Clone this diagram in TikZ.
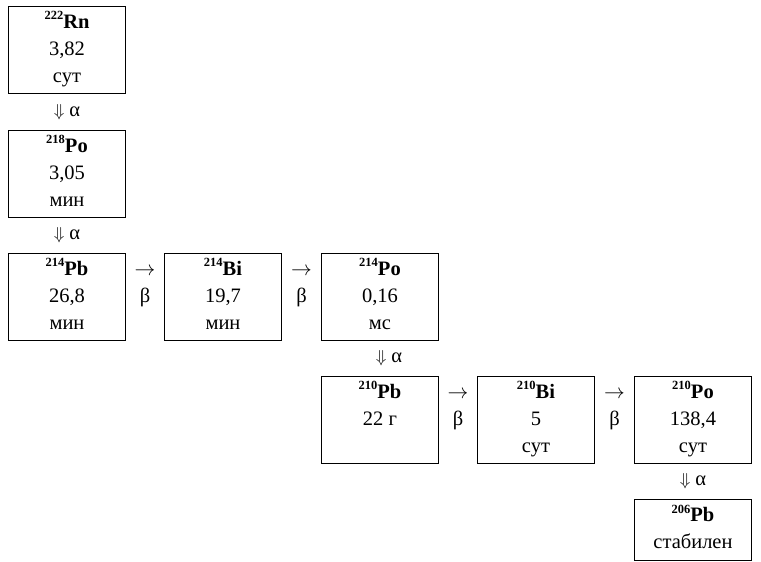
\documentclass[tikz,border=0pt]{standalone}
\usepackage{fontspec}
\setmainfont{Liberation Serif}
\usetikzlibrary{positioning,calc}

% isotope label: bold mass number raised before the symbol
\newcommand{\iso}[2]{\textbf{\raisebox{0.42em}{\fontsize{12.5}{12.5}\selectfont #1}#2}}
\newcommand{\nuc}[4]{\strut\iso{#1}{#2}\\#3\\#4\strut}

\begin{document}
\begin{tikzpicture}[x=1pt, y=-1pt,
    every node/.style={font=\fontsize{20.5}{27}\selectfont},
    nuclide/.style={draw, line width=1pt, minimum width=117pt, minimum height=87pt,
        align=center, inner sep=0pt},
    decay/.style={align=center, inner sep=0pt}]
    \useasboundingbox (0,0) rectangle (761,562);

    % Radon column
    \node[nuclide, anchor=north west] (rn222) at (8,6) {\nuc{222}{Rn}{3,82}{сут}};
    \node[nuclide, below=36pt of rn222] (po218) {\nuc{218}{Po}{3,05}{мин}};
    \node[nuclide, below=35pt of po218] (pb214) {\nuc{214}{Pb}{26,8}{мин}};

    % Short-lived daughters
    \node[nuclide, right=38pt of pb214] (bi214) {\nuc{214}{Bi}{19,7}{мин}};
    \node[nuclide, right=39pt of bi214] (po214) {\nuc{214}{Po}{0,16}{мс}};

    % Long-lived daughters
    \node[nuclide, below=35pt of po214] (pb210) {\nuc{210}{Pb}{22 г}{~}};
    \node[nuclide, right=38pt of pb210] (bi210) {\nuc{210}{Bi}{5}{сут}};
    \node[nuclide, right=39pt of bi210] (po210) {\nuc{210}{Po}{138,4}{сут}};
    \node[nuclide, minimum height=61pt, below=35pt of po210] (pb206)
        {\strut\iso{206}{Pb}\\стабилен\strut};

    % Alpha decays
    \foreach \a/\b/\dx in {rn222/po218/0, po218/pb214/0, po214/pb210/9, po210/pb206/0} {
        \node[decay, xshift=\dx pt] (alpha-\a) at ($(\a.south)!0.5!(\b.north)$)
            {{\fontsize{19}{19}\selectfont$\Downarrow$} α};
    }

    % Beta decays
    \foreach \a/\b in {pb214/bi214, bi214/po214, pb210/bi210, bi210/po210} {
        \node[decay] (beta-\a) at ($(\a.east)!0.5!(\b.west)$)
            {\strut$\rightarrow$\\β\\\strut};
    }
\end{tikzpicture}
\end{document}
